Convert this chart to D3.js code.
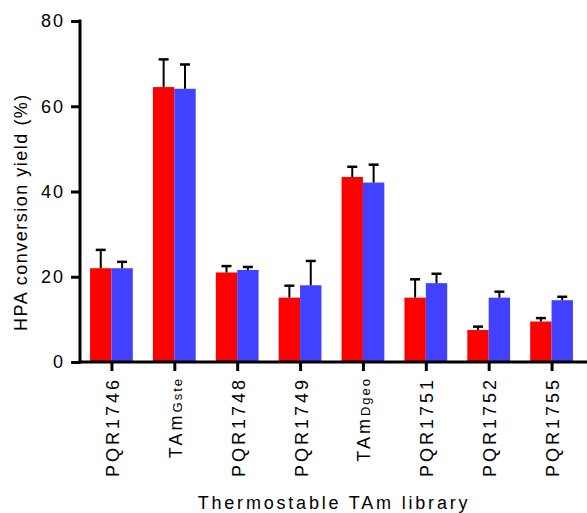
<!DOCTYPE html>
<html>
<head>
<meta charset="utf-8">
<style>
body{margin:0;background:#fff;}
text{font-family:Arial,"Liberation Sans",sans-serif;fill:#000;}
.axis path,.axis line{stroke:#000;stroke-width:3;}
</style>
<script src="https://cdn.jsdelivr.net/npm/d3@7"></script>
</head>
<body>
<script>
var width = 587, height = 513;

// categories (main name + subscript)
var names = ["PQR1746", "TAm", "PQR1748", "PQR1749", "TAm", "PQR1751", "PQR1752", "PQR1755"];
var subs  = ["", "Gste", "", "", "Dgeo", "", "", ""];
// two series, means and upper error
var redVals  = [22.0, 64.5, 21.0, 15.1, 43.4, 15.1, 7.5, 9.5];
var redErr   = [4.3, 6.5, 1.5, 2.8, 2.4, 4.3, 0.8, 0.8];
var blueVals = [22.0, 64.1, 21.6, 18.0, 42.1, 18.5, 15.1, 14.5];
var blueErr  = [1.5, 5.7, 0.7, 5.7, 4.2, 2.2, 1.4, 0.8];
var yTicks = [0, 20, 40, 60, 80];

var colors = ["#ff0000", "#4141ff"];

var svg = d3.select("body").append("svg")
	.attr("width", width)
	.attr("height", height);

var y = d3.scaleLinear().domain([0, 80]).range([362, 21]);
var x = d3.scaleBand().domain(d3.range(names.length)).range([80, 583])
	.paddingInner(0.32).paddingOuter(0.16);
var x1 = d3.scaleBand().domain([0, 1]).range([0, x.bandwidth()]);

var data = names.map(function(n, i){
	return [{s:0, v:redVals[i], e:redErr[i]}, {s:1, v:blueVals[i], e:blueErr[i]}];
});

var grp = svg.append("g").selectAll("g")
	.data(data).enter().append("g")
	.attr("transform", function(d, i){ return "translate(" + x(i) + ",0)"; });

grp.selectAll("rect").data(function(d){ return d; }).enter().append("rect")
	.attr("x", function(d){ return x1(d.s); })
	.attr("width", x1.bandwidth())
	.attr("y", function(d){ return y(d.v); })
	.attr("height", function(d){ return y(0) - y(d.v); })
	.style("fill", function(d){ return colors[d.s]; });

// error bars (upper only)
var eb = grp.selectAll("g.err").data(function(d){ return d; }).enter().append("g")
	.attr("class", "err")
	.attr("transform", function(d){ return "translate(" + (x1(d.s) + x1.bandwidth()/2) + ",0)"; });
eb.append("line")
	.attr("y1", function(d){ return y(d.v); })
	.attr("y2", function(d){ return y(d.v + d.e); })
	.style("stroke", "#000").style("stroke-width", 2);
eb.append("line")
	.attr("x1", -5).attr("x2", 5)
	.attr("y1", function(d){ return y(d.v + d.e); })
	.attr("y2", function(d){ return y(d.v + d.e); })
	.style("stroke", "#000").style("stroke-width", 2.5);

// y axis
var yAxis = svg.append("g").attr("class", "axis")
	.attr("transform", "translate(80,0)")
	.call(d3.axisLeft(y).tickValues(yTicks).tickSize(9).tickSizeOuter(0).tickPadding(6));
yAxis.select(".domain").attr("d", "M0," + (y(80) - 1.5) + "V" + (y(0) + 1.5));
yAxis.selectAll(".tick text")
	.style("font-size", "18px")
	.style("letter-spacing", "2px");

// x axis
var xAxis = svg.append("g").attr("class", "axis")
	.attr("transform", "translate(0," + y(0) + ")")
	.call(d3.axisBottom(x).tickSize(9).tickSizeOuter(0).tickFormat(""));
xAxis.select(".domain").attr("d", "M78.5,0H587");
xAxis.selectAll(".tick line").attr("transform", "translate(0.5,0)");

var lab = svg.append("g").selectAll("text")
	.data(names).enter().append("text")
	.attr("transform", function(d, i){
		return "translate(" + (x(i) + x.bandwidth()/2 + 1) + ",377) rotate(-90)";
	})
	.attr("dy", "0.36em")
	.attr("text-anchor", "end")
	.style("font-size", "18px")
	.style("letter-spacing", "3px");
lab.append("tspan").text(function(d){ return d; });
lab.append("tspan")
	.style("font-size", "13px")
	.style("letter-spacing", "2px")
	.text(function(d, i){ return subs[i]; });

// axis titles
svg.append("text")
	.attr("transform", "translate(27,212) rotate(-90)")
	.attr("text-anchor", "middle")
	.style("font-size", "18px")
	.style("letter-spacing", "1.5px")
	.text("HPA conversion yield (%)");

svg.append("text")
	.attr("x", 334).attr("y", 509)
	.attr("text-anchor", "middle")
	.style("font-size", "18px")
	.style("letter-spacing", "2.8px")
	.text("Thermostable TAm library");
</script>
</body>
</html>
